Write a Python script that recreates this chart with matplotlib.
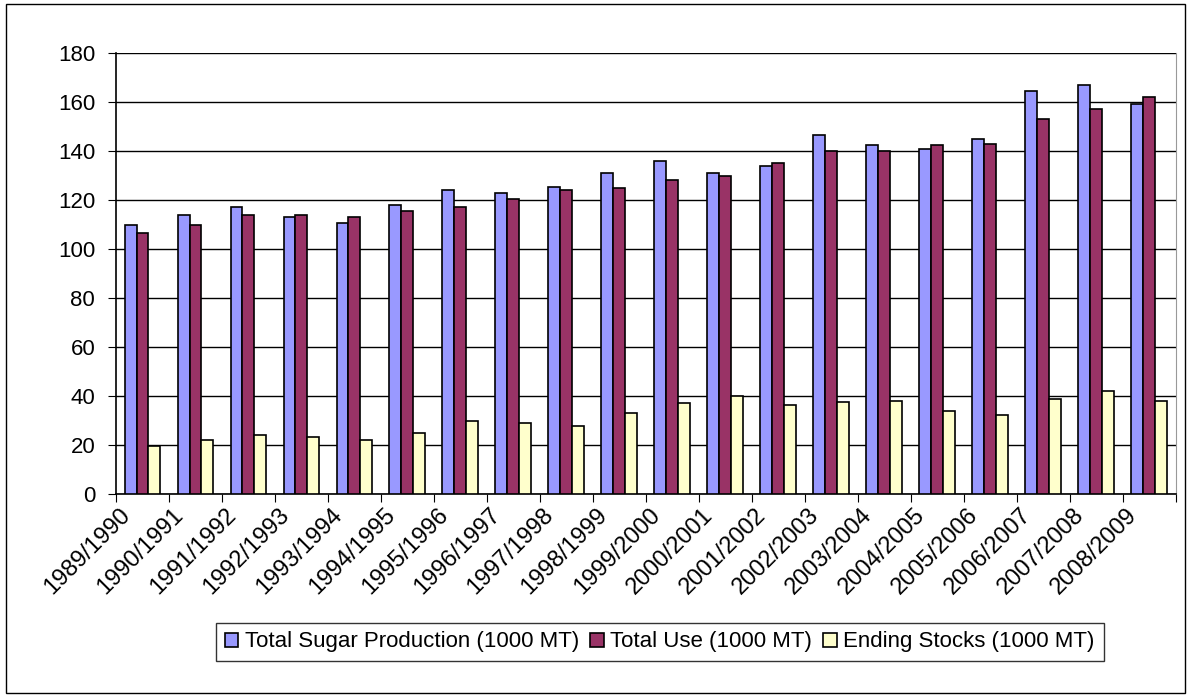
import matplotlib.pyplot as plt
import matplotlib.transforms as mtransforms
import numpy as np
from matplotlib.patches import Rectangle

plt.rcParams['font.family'] = ['Liberation Sans', 'DejaVu Sans']

seasons = ['1989/1990', '1990/1991', '1991/1992', '1992/1993', '1993/1994',
           '1994/1995', '1995/1996', '1996/1997', '1997/1998', '1998/1999',
           '1999/2000', '2000/2001', '2001/2002', '2002/2003', '2003/2004',
           '2004/2005', '2005/2006', '2006/2007', '2007/2008', '2008/2009']
production = [110, 114, 117, 113, 110.5, 118, 124, 123, 125.5, 131,
              136, 131, 134, 146.5, 142.5, 141, 145, 164.5, 167, 159]
use = [106.5, 110, 114, 114, 113, 115.5, 117, 120.5, 124, 125,
       128, 130, 135, 140, 140, 142.5, 143, 153, 157, 162]
stocks = [19.5, 22, 24, 23.5, 22, 25, 30, 29, 28, 33,
          37, 40, 36.5, 37.5, 38, 34, 32.5, 39, 42, 38]

names = ['Total Sugar Production (1000 MT)', 'Total Use (1000 MT)', 'Ending Stocks (1000 MT)']
colors = ['#9999FF', '#993366', '#FFFFCC']
fs = 16

fig = plt.figure(figsize=(11.91, 6.97), dpi=100)
ax = fig.add_axes([0.0974, 0.291, 0.8896, 0.633])

x = np.arange(len(seasons))
w = 0.225
for i, (vals, c, n) in enumerate(zip([production, use, stocks], colors, names)):
    ax.bar(x + (i - 1) * w, vals, w, color=c, edgecolor='black', linewidth=1.2, label=n, zorder=3)

ax.set_xlim(-0.5, len(seasons) - 0.5)
ax.set_ylim(0, 180)
ax.set_yticks(range(0, 181, 20))
ax.yaxis.grid(True, color='black', linewidth=1, zorder=0)
ax.set_axisbelow(True)

# tick marks between categories, labels at category centres
ax.set_xticks(np.arange(-0.5, len(seasons), 1))
ax.set_xticklabels([])
ax.set_xticks(x, minor=True)
ax.set_xticklabels(seasons, minor=True, rotation=45, ha='right', va='top', fontsize=17)
ax.tick_params(axis='x', which='minor', length=0, pad=7)
ax.tick_params(axis='x', which='major', length=6, direction='out')
ax.tick_params(axis='y', length=6, direction='out', labelsize=fs, pad=9)

shift = mtransforms.ScaledTranslation(-8 / 100, 0, fig.dpi_scale_trans)
for lbl in ax.get_xticklabels(minor=True):
    lbl.set_transform(lbl.get_transform() + shift)

ax.spines['top'].set_visible(False)
ax.spines['right'].set_color('#999999')
ax.spines['left'].set_linewidth(1.2)
ax.spines['bottom'].set_linewidth(1.2)

leg = fig.legend(loc='center', bbox_to_anchor=(0.554, 0.079), ncol=3, fontsize=fs,
                 frameon=True, fancybox=False, edgecolor='black', handlelength=0.6,
                 handleheight=0.6, handletextpad=0.3, columnspacing=0.5, borderpad=0.4)
leg.get_frame().set_linewidth(1)

fig.patches.append(Rectangle((0.005, 0.006), 0.99, 0.988, transform=fig.transFigure,
                             fill=False, edgecolor='black', linewidth=1))

fig.savefig('out.png', dpi=100)
